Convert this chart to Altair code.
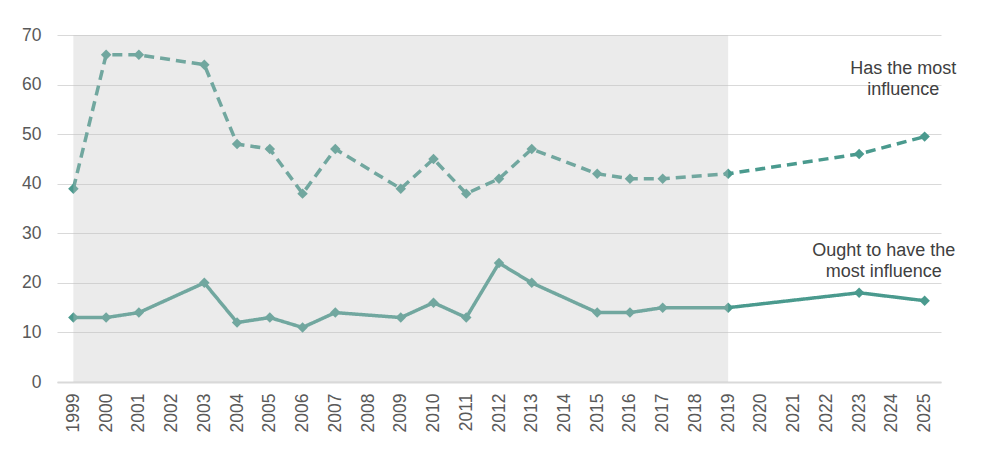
import altair as alt
import pandas as pd

# ---- data ----
years = [1999, 2000, 2001, 2003, 2004, 2005, 2006, 2007, 2009, 2010, 2011,
         2012, 2013, 2015, 2016, 2017, 2019, 2023, 2025]
has_most = [39, 66, 66, 64, 48, 47, 38, 47, 39, 45, 38, 41, 47, 42, 41, 41, 42, 46, 49.5]
ought_most = [13, 13, 14, 20, 12, 13, 11, 14, 13, 16, 13, 24, 20, 14, 14, 15, 15, 18, 16.4]
series_names = ["Has the most influence", "Ought to have the most influence"]
x_tick_years = list(range(1999, 2026))
y_ticks = [0, 10, 20, 30, 40, 50, 60, 70]
shade_from, shade_to = 1999, 2019
label_texts = ["Has the most\ninfluence", "Ought to have the\nmost influence"]
label_years = [2024.35, 2023.75]
label_values = [63.2, 26.4]

TEAL = "#4a9a8e"
FONT = "Liberation Sans"

rows = []
for y, h, o in zip(years, has_most, ought_most):
    rows.append({"year": y, "value": h, "series": series_names[0]})
    rows.append({"year": y, "value": o, "series": series_names[1]})
df = pd.DataFrame(rows)

shade_df = pd.DataFrame({"year": [shade_from], "x2": [shade_to], "value": [y_ticks[0]], "y2": [y_ticks[-1]]})
label_df = pd.DataFrame({"year": label_years, "value": label_values, "text": label_texts})

xscale = alt.Scale(domain=[1998.5, 2025.5], nice=False, zero=False)
yscale = alt.Scale(domain=[0, 70], nice=False)

x_axis = alt.Axis(values=x_tick_years, format="d", labelAngle=270,
                  labelAlign="right", labelBaseline="middle",
                  labelPadding=11, grid=False, ticks=False,
                  labelOverlap=False, labelBound=False, labelFlush=False,
                  domainColor="#d9d9d9", domainWidth=2,
                  labelFont=FONT, labelFontSize=17.5, labelColor="#595959")
y_axis = alt.Axis(values=y_ticks, grid=True, gridColor="#d9d9d9", gridWidth=1.2,
                  domain=False, ticks=False, labelPadding=16,
                  labelOverlap=False, labelFlush=False,
                  labelFont=FONT, labelFontSize=17.5, labelColor="#595959")


def X():
    return alt.X("year:Q", scale=xscale, axis=x_axis, title=None)


def Y():
    return alt.Y("value:Q", scale=yscale, axis=y_axis, title=None)


dash_scale = alt.Scale(domain=series_names, range=[[10, 6], [1, 0]])

lines = alt.Chart(df).mark_line(color=TEAL, strokeWidth=3.5, strokeCap="butt").encode(
    x=X(), y=Y(),
    strokeDash=alt.StrokeDash("series:N", scale=dash_scale, legend=None),
    detail="series:N",
)

points = alt.Chart(df).mark_point(shape="diamond", filled=True, size=110,
                                  color=TEAL, opacity=1).encode(
    x=X(), y=Y(), detail="series:N",
)

shade = alt.Chart(shade_df).mark_rect(color="#c3c3c3", opacity=0.33).encode(
    x=X(), x2="x2:Q", y=Y(), y2="y2:Q",
)

labels = alt.Chart(label_df).mark_text(font=FONT, fontSize=18, color="#404040",
                                       align="center", baseline="middle",
                                       lineBreak="\n", lineHeight=21).encode(
    x=X(), y=Y(), text="text:N",
)

chart = alt.layer(lines, points, shade, labels).properties(
    width=884, height=347,
    autosize=alt.AutoSizeParams(type="none"),
    padding={"left": 57, "top": 35, "right": 51, "bottom": 80},
    background="white",
).configure_view(stroke=None).configure_axis(labelOverlap=False)

chart.save("out.html", embed_options={"renderer": "svg", "actions": False})
